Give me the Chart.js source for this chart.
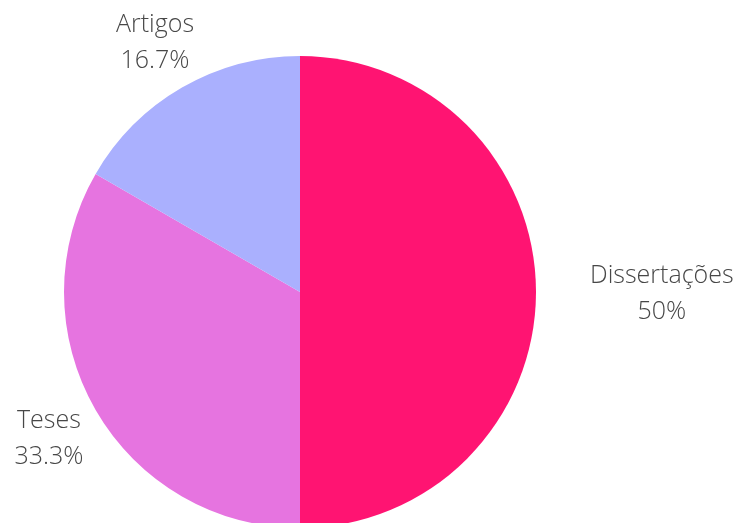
<!DOCTYPE html>
<html>
<head>
<meta charset="utf-8">
<script src="https://cdn.jsdelivr.net/npm/chart.js@4/dist/chart.umd.min.js"></script>
<style>
  html, body { margin: 0; padding: 0; width: 740px; height: 523px; overflow: hidden; background: #ffffff; }
  #wrap { position: absolute; left: 0; top: 0; width: 740px; height: 584px; }
</style>
</head>
<body>
<div id="wrap"><canvas id="chart" width="740" height="584"></canvas></div>
<script>
// Publication types and their counts
const categories = ['Dissertações', 'Teses', 'Artigos'];
const counts = [3, 2, 1];
const sliceColors = ['#FF1472', '#E674E0', '#AAB0FE'];

const total = counts.reduce((a, b) => a + b, 0);
function pctText(v) {
  let s = (v / total * 100).toFixed(1);
  if (s.endsWith('.0')) s = s.slice(0, -2);
  return s + '%';
}

// Draws "name / percent" outside each slice, along its middle angle
const outsideLabels = {
  id: 'outsideLabels',
  afterDatasetsDraw(chart) {
    const ctx = chart.ctx;
    const meta = chart.getDatasetMeta(0);
    ctx.save();
    ctx.font = '300 25px "Open Sans"';
    ctx.fillStyle = '#474747';
    ctx.textBaseline = 'middle';
    ctx.textAlign = 'center';
    const lineH = 36;
    meta.data.forEach((arc, i) => {
      const mid = (arc.startAngle + arc.endAngle) / 2;
      const dist = arc.outerRadius + 54;
      const dx = Math.cos(mid), dy = Math.sin(mid);
      const lines = [categories[i], pctText(counts[i])];
      const w = Math.max(...lines.map(t => ctx.measureText(t).width));
      let x = arc.x + dx * dist;
      const y = arc.y + dy * dist + 2;
      // labels lying straight to the side start at the anchor point
      if (dx > 0.95) x += w / 2;
      else if (dx < -0.95) x -= w / 2;
      lines.forEach((t, k) => {
        ctx.fillText(t, x, y + (k - (lines.length - 1) / 2) * lineH);
      });
    });
    ctx.restore();
  }
};

new Chart(document.getElementById('chart'), {
  type: 'pie',
  data: {
    labels: categories,
    datasets: [{
      data: counts,
      backgroundColor: sliceColors,
      borderWidth: 0
    }]
  },
  options: {
    responsive: false,
    animation: false,
    layout: { padding: { left: 64, right: 204, top: 56, bottom: 56 } },
    plugins: {
      legend: { display: false },
      tooltip: { enabled: false }
    }
  },
  plugins: [outsideLabels]
});
</script>
</body>
</html>
